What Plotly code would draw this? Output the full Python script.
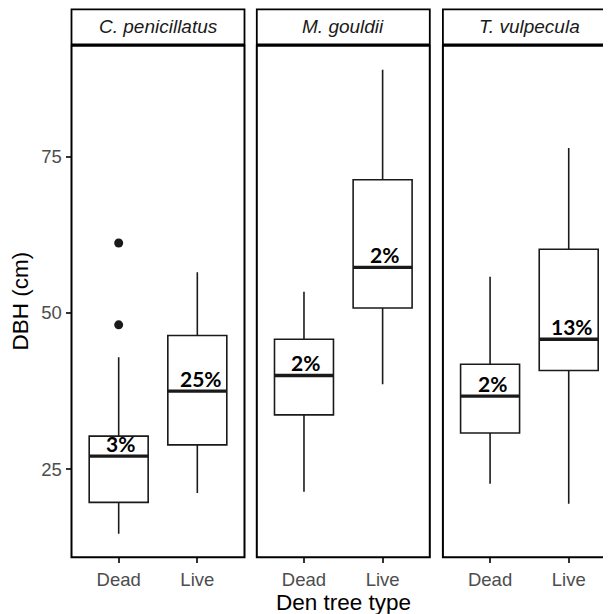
import plotly.graph_objects as go

# ---- data ----
species = ["C. penicillatus", "M. gouldii", "T. vulpecula"]
tree_types = ["Dead", "Live"]
lower_whisker = [[14.7, 21.2], [21.4, 38.6], [22.7, 19.5]]
q1_vals = [[19.7, 28.9], [33.7, 50.8], [30.8, 40.8]]
median_vals = [[27.1, 37.5], [40.0, 57.3], [36.7, 45.8]]
q3_vals = [[30.3, 46.4], [45.8, 71.3], [41.8, 60.2]]
upper_whisker = [[42.9, 56.5], [53.4, 88.9], [55.8, 76.4]]
outliers = [[[48.1, 61.2], []], [[], []], [[], []]]
pct_labels = [["3%", "25%"], ["2%", "2%"], ["2%", "13%"]]
y_ticks = [25, 50, 75]
y_range = [10.92, 92.75]

# ---- geometry (pixels of the 611x614 page; the page body adds an 8px offset) ----
OFF = 8
PAGE_W, PAGE_H = 611, 614
W, H = PAGE_W - OFF, PAGE_H - OFF
panel_left_px = [71.5, 256.8, 442.9]
panel_w_px = 173.0
panel_top_px, panel_bot_px = 45.7, 557.3
strip_top_px, strip_bot_px = 9.3, 44.3

LINE = "#1a1a1a"
BOX_W = 0.75

def px_x(p):
    return (p - OFF) / W

def px_y(p):
    return (H - (p - OFF)) / H

fig = go.Figure()
layout = {}
shapes = []
annotations = []
positions = [1, 2]

for i, sp in enumerate(species):
    sfx = "" if i == 0 else str(i + 1)
    xa, ya = "x" + sfx, "y" + sfx
    d0 = px_x(panel_left_px[i])
    d1 = min(1.0, px_x(panel_left_px[i] + panel_w_px))
    xr1 = 0.4 + 2.2 * (d1 - d0) / (panel_w_px / W)

    for j, t in enumerate(tree_types):
        pos = positions[j]
        fig.add_trace(go.Box(
            x=[pos], q1=[q1_vals[i][j]], median=[median_vals[i][j]],
            q3=[q3_vals[i][j]], lowerfence=[lower_whisker[i][j]],
            upperfence=[upper_whisker[i][j]], width=BOX_W,
            fillcolor="white", line=dict(color=LINE, width=1.6),
            whiskerwidth=0, boxpoints=False, xaxis=xa, yaxis=ya,
            showlegend=False, hoverinfo="skip"))
        fig.add_trace(go.Scatter(
            x=[pos - BOX_W / 2, pos + BOX_W / 2],
            y=[median_vals[i][j], median_vals[i][j]], mode="lines",
            line=dict(color=LINE, width=3.4), xaxis=xa, yaxis=ya,
            showlegend=False, hoverinfo="skip"))
        if outliers[i][j]:
            fig.add_trace(go.Scatter(
                x=[pos] * len(outliers[i][j]), y=outliers[i][j], mode="markers",
                marker=dict(color=LINE, size=9), xaxis=xa, yaxis=ya,
                showlegend=False, hoverinfo="skip"))
        lab = pct_labels[i][j]
        annotations.append(dict(
            x=pos, y=median_vals[i][j], xref=xa, yref=ya,
            text="<b>" + lab + "</b>", showarrow=False,
            font=dict(family="Lato", size=21, color="black"),
            xanchor="center", yanchor="bottom",
            xshift=1.5 * len(lab) - 1, yshift=-2))

    layout["xaxis" + sfx] = dict(
        domain=[d0, d1], range=[0.4, xr1], anchor=ya,
        tickvals=positions, ticktext=tree_types, ticks="outside",
        ticklen=5, tickwidth=1.5, tickcolor="#333333",
        tickfont=dict(family="Liberation Sans", size=18.5, color="#4d4d4d"),
        showgrid=False, zeroline=False, showline=False, fixedrange=True)
    yax = dict(
        domain=[px_y(panel_bot_px), px_y(panel_top_px)], range=y_range,
        anchor=xa, showgrid=False, zeroline=False, showline=False)
    if i == 0:
        yax.update(tickvals=y_ticks, ticks="outside", ticklen=5, tickwidth=1.5,
                   tickcolor="#333333",
                   tickfont=dict(family="Liberation Sans", size=18.5, color="#4d4d4d"))
    else:
        yax.update(matches="y", showticklabels=False, ticks="")
    layout["yaxis" + sfx] = yax

    x0p = px_x(panel_left_px[i])
    x1p = px_x(panel_left_px[i] + panel_w_px)
    shapes.append(dict(type="rect", xref="paper", yref="paper",
                       x0=x0p, x1=x1p, y0=px_y(panel_bot_px), y1=px_y(panel_top_px),
                       line=dict(color="black", width=2), fillcolor="rgba(0,0,0,0)",
                       layer="above"))
    shapes.append(dict(type="rect", xref="paper", yref="paper",
                       x0=x0p, x1=x1p, y0=px_y(strip_bot_px), y1=px_y(strip_top_px),
                       line=dict(color="black", width=1.8), fillcolor="white",
                       layer="above"))
    annotations.append(dict(
        x=(x0p + x1p) / 2, y=px_y((strip_top_px + strip_bot_px) / 2),
        xref="paper", yref="paper", text="<i>" + sp + "</i>", showarrow=False,
        font=dict(family="Liberation Sans", size=19, color="#1a1a1a"),
        xanchor="center", yanchor="middle"))

# axis titles
annotations.append(dict(
    x=px_x((panel_left_px[0] + panel_left_px[2] + panel_w_px) / 2), y=px_y(602.5),
    xref="paper", yref="paper", text="Den tree type", showarrow=False,
    font=dict(family="Liberation Sans", size=22.5, color="black"),
    xanchor="center", yanchor="middle"))
annotations.append(dict(
    x=px_x(20), y=px_y((panel_top_px + panel_bot_px) / 2),
    xref="paper", yref="paper", text="DBH (cm)", showarrow=False, textangle=-90,
    font=dict(family="Liberation Sans", size=22.5, color="black"),
    xanchor="center", yanchor="middle"))

fig.update_layout(
    width=W, height=H, margin=dict(l=0, r=0, t=0, b=0),
    paper_bgcolor="white", plot_bgcolor="white",
    shapes=shapes, annotations=annotations, showlegend=False, **layout)

fig.write_html("out.html")
